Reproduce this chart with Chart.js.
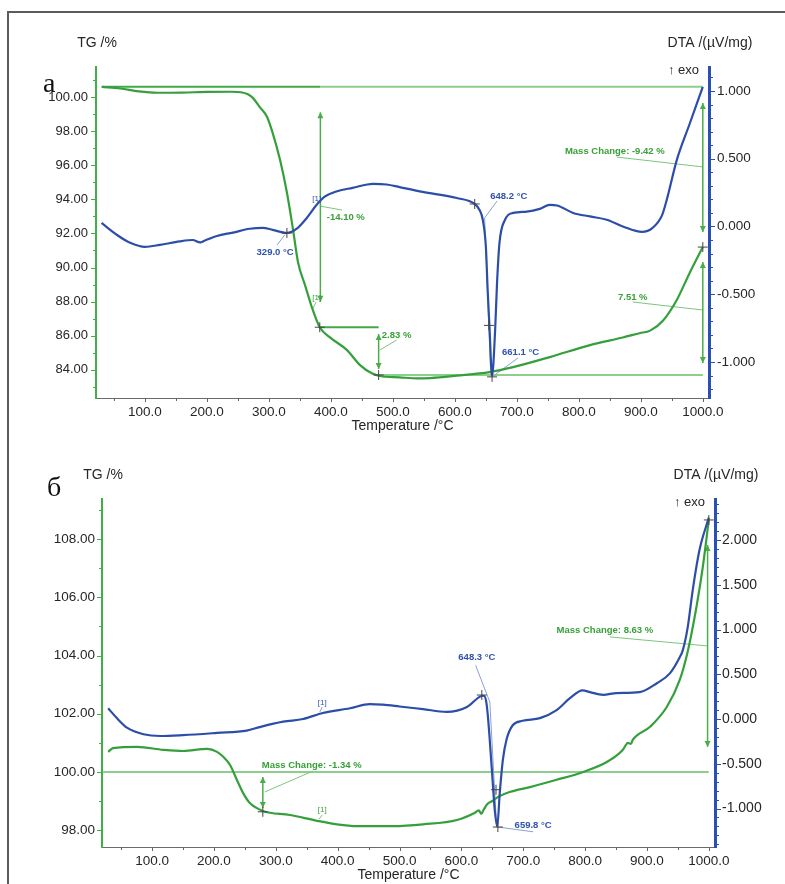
<!DOCTYPE html>
<html><head><meta charset="utf-8">
<script src="https://cdn.jsdelivr.net/npm/chart.js@4.4.0/dist/chart.umd.min.js"></script>
<style>
html,body{margin:0;padding:0;background:#fff;}
#wrap{position:relative;width:785px;height:884px;overflow:hidden;background:#fff;}
#frame{position:absolute;left:7px;top:11px;width:800px;height:900px;border-top:2px solid #5c5c5c;border-left:2px solid #5c5c5c;}
canvas{position:absolute;left:0;top:0;}
</style></head><body>
<div id="wrap"><div id="frame"></div>
<canvas id="c1" width="785" height="884"></canvas>
<canvas id="c2" width="785" height="884"></canvas>
</div>
<script>
// ---------- shared ticks ----------
const tempTicks = [100,200,300,400,500,600,700,800,900,1000];

// ---------- panel a ----------
const aTgTicks = [84,86,88,90,92,94,96,98,100];
const aDtaTicks = [-1,-0.5,0,0.5,1];
const aTG = [[30,100.59],[60,100.5],[90,100.33],[120,100.25],[160,100.26],[200,100.3],[240,100.31],[255,100.28],[266,100.16],[274,99.95],[285,99.42],[297,98.83],[306,97.9],[318,96.3],[329,94.4],[339,92.2],[347,90.3],[358,89.0],[369,87.7],[382,86.5],[398,85.92],[426,85.16],[447,84.28],[466,83.8],[479,83.64],[511,83.56],[540,83.5],[560,83.52],[603,83.66],[656,83.87],[694,84.16],[753,84.75],[818,85.45],[871,85.9],[898,86.15],[915,86.3],[936,86.9],[958,88.1],[979,89.7],[1000,91.2]];
const aDTA = [[30,0.026],[55,-0.063],[76,-0.12],[100,-0.15],[124,-0.136],[156,-0.11],[177,-0.10],[189,-0.118],[196,-0.105],[216,-0.07],[242,-0.045],[269,-0.017],[290,-0.01],[306,-0.025],[329,-0.048],[345,-0.016],[361,0.063],[377,0.16],[390,0.22],[410,0.26],[435,0.285],[468,0.315],[490,0.31],[511,0.29],[548,0.255],[603,0.21],[632,0.166],[640,0.12],[645,0.05],[650,-0.15],[653,-0.48],[656,-0.76],[660,-1.1],[665,-0.76],[668,-0.42],[672,-0.12],[681,0.05],[694,0.1],[716,0.11],[737,0.13],[753,0.16],[765,0.155],[791,0.10],[818,0.074],[845,0.05],[871,0.0],[902,-0.04],[919,-0.01],[934,0.08],[942,0.2],[958,0.49],[979,0.76],[1000,1.03]];
// annotations (temperature, value)
const aRefDark = [[31,100.6,383,100.6],[382,86.5,477,86.5]];
const aRefLight = [[383,100.6,1000,100.6],[477,83.7,1000,83.7]];
const aArrows = [[383,99.1,88.0],[477,86.1,84.05],[1000,99.65,92.08],[1000,90.32,84.4]];
const aLeadG = [[861,96.48,1000,95.9],[887,87.98,1000,87.51],[383,93.6,418,93.37],[479,85.16,506,85.75],[376,87.98,371,87.6]];
const aCrossG = [[382,86.5],[477,83.7],[1000,91.2]];
const aLabG = [[858,96.8,'Mass Change: -9.42 %'],[887,88.27,'7.51 %'],[424,92.96,'-14.10 %'],[506,86.04,'2.83 %']];
const aTinyG = [[377,88.2,'[1]']];
const aLeadB = [[326,-0.06,313,-0.137],[668,0.188,648,0.063],[648,0.063,658,-1.11],[702,-0.97,660,-1.11],[378,0.19,380,0.17]];
const aCrossB = [[329,-0.048],[632,0.166],[655,-0.73],[660,-1.11]];
const aLabB = [[310,-0.188,'329.0 °C'],[687,0.225,'648.2 °C'],[706,-0.926,'661.1 °C']];
const aTinyB = [[377,0.203,'[1]']];

// ---------- panel б ----------
const bTgTicks = [98,100,102,104,106,108];
const bDtaTicks = [-1,-0.5,0,0.5,1,1.5,2];
const bTG = [[29,100.69],[37,100.82],[76,100.86],[118,100.76],[150,100.72],[189,100.79],[205,100.69],[215,100.52],[226,100.24],[237,99.73],[247,99.28],[258,98.93],[279,98.66],[323,98.52],[367,98.32],[399,98.2],[431,98.14],[490,98.14],[538,98.2],[593,98.35],[622,98.6],[628,98.68],[632,98.56],[636,98.7],[642,98.9],[650,99.0],[660,99.15],[678,99.31],[711,99.48],[754,99.73],[797,100.0],[835,100.34],[861,100.76],[866,100.93],[869,101.0],[874,100.96],[877,101.1],[905,101.55],[932,102.23],[953,103.16],[966,104.15],[980,105.67],[990,107.0],[1000,108.66]];
const bDTA = [[29,0.12],[43,0.01],[60,-0.1],[86,-0.17],[113,-0.19],[150,-0.18],[205,-0.155],[253,-0.13],[274,-0.09],[312,-0.03],[344,0.0],[376,0.067],[420,0.12],[452,0.167],[473,0.16],[500,0.14],[538,0.11],[576,0.08],[609,0.134],[630,0.25],[636,0.26],[640,0.2],[643,0.02],[649,-0.54],[654,-1.02],[658,-1.2],[662,-0.83],[667,-0.46],[673,-0.23],[683,-0.07],[699,-0.02],[727,0.01],[754,0.1],[775,0.23],[796,0.32],[808,0.3],[829,0.27],[851,0.29],[888,0.3],[916,0.4],[937,0.51],[953,0.69],[958,0.77],[966,1.03],[974,1.44],[985,1.89],[1000,2.25]];
const bRefDark = [];
const bRefLight = [[21,100,1000,100]];
const bArrows = [[279,99.83,98.76],[998,107.8,100.86]];
const bLeadG = [[282,99.31,360,100.03],[840,104.64,998,104.33],[375,98.52,370,98.38]];
const bCrossG = [[279,98.63],[1000,108.66]];
const bLabG = [[358,100.21,'Mass Change: -1.34 %'],[832,104.85,'Mass Change: 8.63 %']];
const bTinyG = [[375,98.7,'[1]']];
const bLeadB = [[623,0.60,646,0.19],[646,0.19,657,-1.207],[659,-1.207,716,-1.26],[375,0.134,371,0.078]];
const bCrossB = [[633,0.268],[656,-0.79],[659,-1.207]];
const bLabB = [[625,0.69,'648.3 °C'],[716,-1.184,'659.8 °C']];
const bTinyB = [[375,0.179,'[1]']];

// ---------- styles ----------
const C = {
  tg:'#35a03b', dta:'#2c4ea8', axG:'#3fb045', axB:'#2a4fb5',
  refDark:'#45a847', refLight:'#8ccf8c', leadG:'#7cc57c', leadB:'#8a9fd6',
  arrow:'#4aad4a', txtG:'#38a038', txtB:'#3151ad', cross:'#444', text:'#262626'
};
const FONT = 'Liberation Sans, Arial, Helvetica, sans-serif';

const annotPlugin = {
  id:'annot',
  beforeDatasetsDraw(chart, args, o){
    const ctx = chart.ctx, xs = chart.scales.x;
    const px = v => xs.getPixelForValue(v);
    const py = (ax,v) => chart.scales[ax].getPixelForValue(v);
    ctx.save();
    const seg = (arr, ax, color, w) => arr.forEach(l => {
      ctx.beginPath(); ctx.strokeStyle=color; ctx.lineWidth=w;
      ctx.moveTo(px(l[0]),py(ax,l[1])); ctx.lineTo(px(l[2]),py(ax,l[3])); ctx.stroke();
    });
    seg(o.refLight,'y',C.refLight,2);
    seg(o.refDark,'y',C.refDark,2);
    seg(o.leadG,'y',C.leadG,1);
    seg(o.leadB,'y1',C.leadB,1);
    o.arrows.forEach(a => {
      const x=px(a[0]), y1=py('y',a[1]), y2=py('y',a[2]);
      ctx.beginPath(); ctx.strokeStyle=C.arrow; ctx.lineWidth=1.5;
      ctx.moveTo(x,y1); ctx.lineTo(x,y2); ctx.stroke();
      const d = Math.sign(y2-y1);
      ctx.fillStyle=C.arrow;
      [[y1,d],[y2,-d]].forEach(([yy,dd])=>{
        ctx.beginPath(); ctx.moveTo(x,yy); ctx.lineTo(x-3,yy+dd*6); ctx.lineTo(x+3,yy+dd*6); ctx.closePath(); ctx.fill();
      });
    });
    ctx.restore();
  },
  afterDatasetsDraw(chart, args, o){
    const ctx = chart.ctx, xs = chart.scales.x;
    const px = v => xs.getPixelForValue(v);
    const py = (ax,v) => chart.scales[ax].getPixelForValue(v);
    ctx.save();
    const cross = (arr, ax) => arr.forEach(c => {
      const x=px(c[0]), y=py(ax,c[1]);
      ctx.beginPath(); ctx.strokeStyle=C.cross; ctx.lineWidth=1;
      ctx.moveTo(x-5,y); ctx.lineTo(x+5,y); ctx.moveTo(x,y-5); ctx.lineTo(x,y+5); ctx.stroke();
    });
    cross(o.crossG,'y'); cross(o.crossB,'y1');
    const lab = (arr, ax, color, font) => arr.forEach(l => {
      ctx.font = font+' '+FONT; ctx.fillStyle=color; ctx.textAlign='center'; ctx.textBaseline='middle';
      ctx.fillText(l[2], px(l[0]), py(ax,l[1]));
    });
    lab(o.labG,'y',C.txtG,'bold 9.5px'); lab(o.labB,'y1',C.txtB,'bold 9.5px');
    lab(o.tinyG,'y',C.txtG,'8px'); lab(o.tinyB,'y1',C.txtB,'8px');
    ctx.restore();
  },
  afterDraw(chart, args, o){
    const ctx = chart.ctx, a = chart.chartArea;
    const xs = chart.scales.x, ys = chart.scales.y, y1 = chart.scales.y1;
    ctx.save(); ctx.lineWidth=1;
    const ln=(x1,yA,x2,yB)=>{ctx.beginPath();ctx.moveTo(x1,yA);ctx.lineTo(x2,yB);ctx.stroke();};
    ctx.strokeStyle='#666';
    for(let v=Math.ceil(xs.min/50)*50; v<=xs.max; v+=50){ const p=Math.round(xs.getPixelForValue(v))+0.5; ln(p,a.bottom,p,a.bottom+(v%100===0?4:3)); }
    ctx.strokeStyle=C.axG;
    for(let v=Math.ceil(ys.min); v<=ys.max; v+=1){ const p=Math.round(ys.getPixelForValue(v))+0.5; ln(a.left-(v%2===0?5:3),p,a.left,p); }
    ctx.strokeStyle=C.axB;
    for(let k=Math.ceil(y1.min*10); k<=y1.max*10; k++){ const p=Math.round(y1.getPixelForValue(k/10))+0.5; ln(a.right,p,a.right+(k%5===0?6:4),p); }
    // titles
    ctx.fillStyle=C.text; ctx.textBaseline='middle';
    ctx.font='14px '+FONT; ctx.textAlign='center';
    ctx.fillText(o.titles.left, a.left+1, a.top-24);
    ctx.fillText(o.titles.right, a.right+1, a.top-24);
    ctx.fillText(o.titles.x, (a.left+a.right)/2, a.bottom+28);
    ctx.font='13px '+FONT; ctx.textAlign='right';
    ctx.fillText(o.titles.exo, a.right-10, a.top+3);
    ctx.font='28px Liberation Serif, Times New Roman, serif'; ctx.fillStyle='#111'; ctx.textAlign='left'; ctx.textBaseline='alphabetic';
    ctx.fillText(o.titles.letter, a.left+o.titles.letterDx, a.top+o.titles.letterDy);
    ctx.restore();
  }
};

function makeChart(id, cfg){
  const pts = arr => arr.map(p=>({x:p[0], y:p[1]}));
  return new Chart(document.getElementById(id), {
    type:'line',
    data:{datasets:[
      {data:pts(cfg.dta), yAxisID:'y1', borderColor:C.dta, borderWidth:2.2, pointRadius:0, cubicInterpolationMode:'monotone', fill:false},
      {data:pts(cfg.tg), yAxisID:'y', borderColor:C.tg, borderWidth:2.2, pointRadius:0, cubicInterpolationMode:'monotone', fill:false}
    ]},
    options:{
      responsive:false, animation:false, devicePixelRatio:1,
      layout:{padding:cfg.pad},
      plugins:{legend:{display:false}, tooltip:{enabled:false}, annot:cfg.annot},
      scales:{
        x:{type:'linear', min:cfg.xMin, max:cfg.xMax,
          afterBuildTicks:s=>{s.ticks=tempTicks.map(v=>({value:v}));},
          afterFit:s=>{s.height=30;},
          grid:{display:false, drawTicks:false}, border:{display:true,color:'#6a6a6a',width:1},
          ticks:{padding:6, maxRotation:0, autoSkip:false, color:C.text, font:{family:FONT,size:13.5}, callback:v=>v.toFixed(1)}},
        y:{type:'linear', position:'left', min:cfg.tgMin, max:cfg.tgMax,
          afterBuildTicks:s=>{s.ticks=cfg.tgTicks.map(v=>({value:v}));},
          afterFit:s=>{s.width=cfg.leftW;},
          grid:{display:false, drawTicks:false}, border:{display:true,color:C.axG,width:2},
          ticks:{padding:cfg.lp, autoSkip:false, color:C.text, font:{family:FONT,size:cfg.lf}, callback:v=>v.toFixed(2)}},
        y1:{type:'linear', position:'right', min:cfg.dMin, max:cfg.dMax,
          afterBuildTicks:s=>{s.ticks=cfg.dTicks.map(v=>({value:v}));},
          afterFit:s=>{s.width=cfg.rightW;},
          grid:{display:false, drawTicks:false}, border:{display:true,color:C.axB,width:3},
          ticks:{padding:cfg.rp, autoSkip:false, color:C.text, font:{family:FONT,size:cfg.rf}, callback:v=>v.toFixed(3)}}
      }
    },
    plugins:[annotPlugin]
  });
}

makeChart('c1', {
  tg:aTG, dta:aDTA, xMin:21, xMax:1010, tgMin:82.35, tgMax:101.76, dMin:-1.266, dMax:1.177,
  tgTicks:aTgTicks, dTicks:aDtaTicks, leftW:96, rightW:76, lp:8, rp:8, lf:13, rf:13.5,
  pad:{left:0,right:0,top:67,bottom:456},
  annot:{refDark:aRefDark, refLight:aRefLight, arrows:aArrows, leadG:aLeadG, leadB:aLeadB,
    crossG:aCrossG, crossB:aCrossB, labG:aLabG, labB:aLabB, tinyG:aTinyG, tinyB:aTinyB,
    titles:{left:'TG /%', right:'DTA /(µV/mg)', x:'Temperature /°C', exo:'↑ exo', letter:'а', letterDx:-53, letterDy:25}}
});
makeChart('c2', {
  tg:bTG, dta:bDTA, xMin:19, xMax:1010, tgMin:97.42, tgMax:109.38, dMin:-1.43, dMax:2.458,
  tgTicks:bTgTicks, dTicks:bDtaTicks, leftW:102, rightW:70, lp:7, rp:7, lf:13.5, rf:14,
  pad:{left:0,right:0,top:499,bottom:7},
  annot:{refDark:bRefDark, refLight:bRefLight, arrows:bArrows, leadG:bLeadG, leadB:bLeadB,
    crossG:bCrossG, crossB:bCrossB, labG:bLabG, labB:bLabB, tinyG:bTinyG, tinyB:bTinyB,
    titles:{left:'TG /%', right:'DTA /(µV/mg)', x:'Temperature /°C', exo:'↑ exo', letter:'б', letterDx:-55, letterDy:-3}}
});
</script>
</body></html>
